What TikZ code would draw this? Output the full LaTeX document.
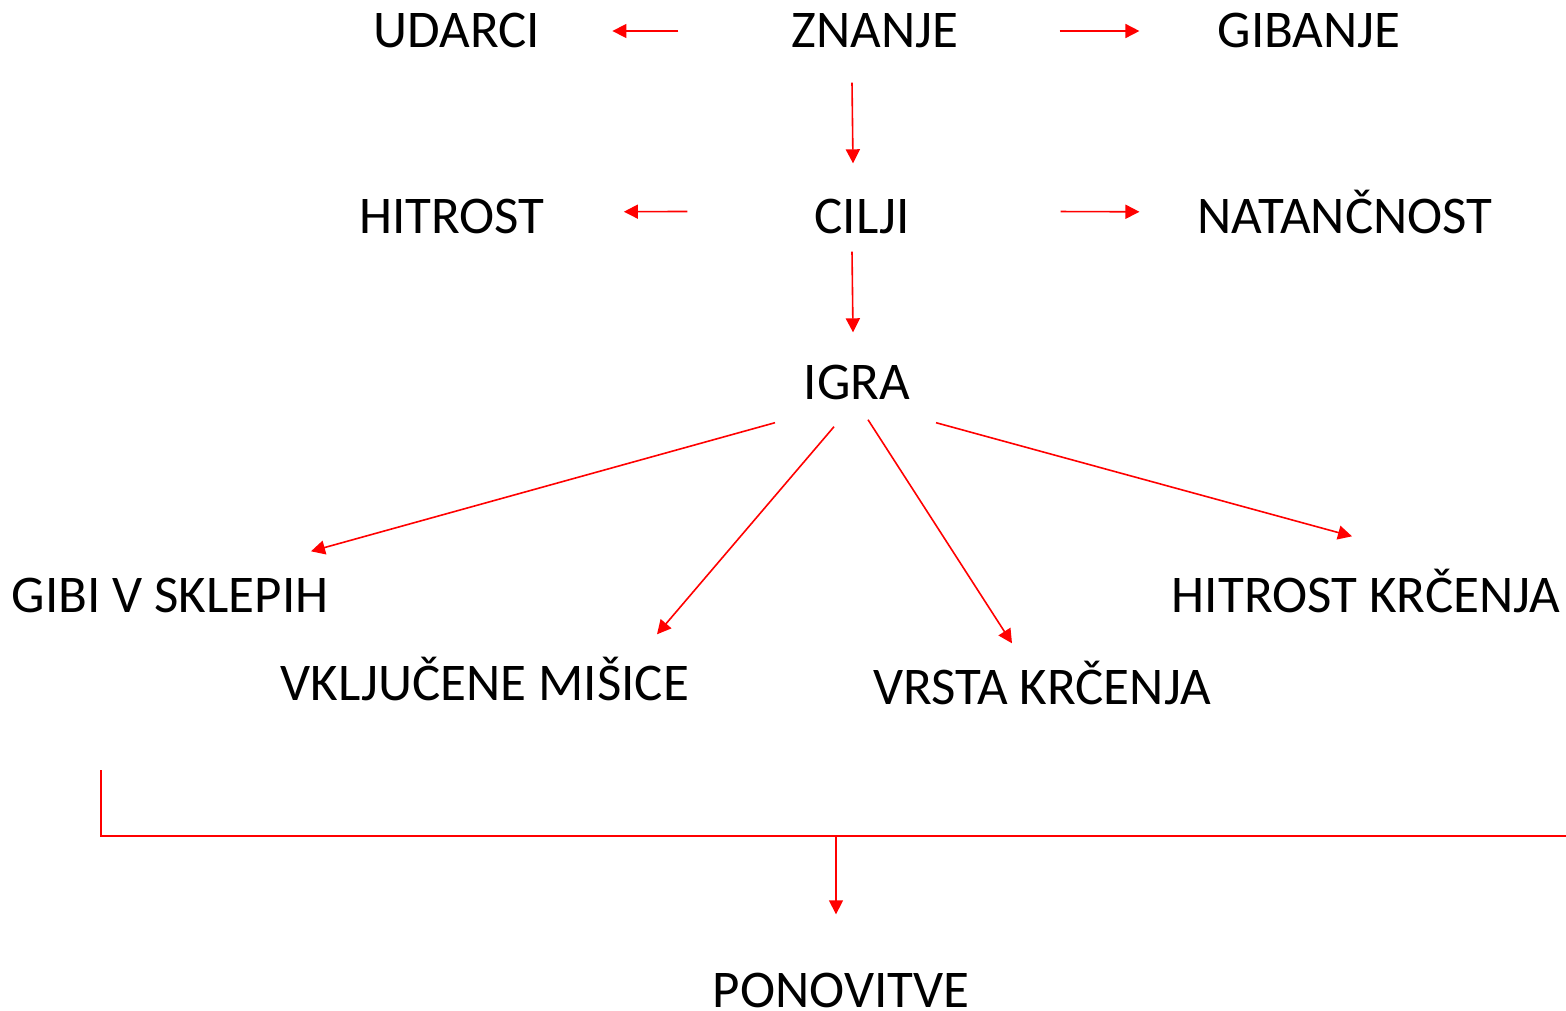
\documentclass[tikz,border=0pt]{standalone}
\usepackage{fontspec}
\setmainfont{Carlito}
\usepackage{xcolor}
\usepackage{tikz}
\usetikzlibrary{arrows.meta,calc}

\begin{document}
\begin{tikzpicture}[x=1pt, y=-1pt,
    every node/.style={font=\fontsize{53}{60}\selectfont, inner sep=0pt, text height=33pt, text depth=0pt},
    link/.style={red, line width=1.6pt},
    arr/.style={link, -{Triangle[length=14pt,width=14pt]}}]
    \useasboundingbox (0,0) rectangle (1566,1010);
    \node (udarci) at (457,31) {UDARCI};
    \node (znanje) at (875,31) {ZNANJE};
    \node (gibanje) at (1309,31) {GIBANJE};
    \node (hitrost) at (452,217) {HITROST};
    \node (cilji) at (862,217) {CILJI};
    \node (natancnost) at (1345,217) {NATANČNOST};
    \node (igra) at (857,383) {IGRA};
    \node (gibi) at (170,596) {GIBI V SKLEPIH};
    \node (misice) at (485,684) {VKLJUČENE MIŠICE};
    \node (vrsta) at (1042,688) {VRSTA KRČENJA};
    \node (hitrostk) at (1366,596) {HITROST KRČENJA};
    \node (ponovitve) at (841,991) {PONOVITVE};
    \coordinate (bl) at (101,770);
    \coordinate (br) at (1566,836);
    \coordinate (bm) at (836,836);
    \draw[arr, shorten <=113pt, shorten >=72pt] (znanje.west) -- (udarci.east);
    \draw[arr, shorten <=101pt, shorten >=78pt] (znanje.east) -- (gibanje.west);
    \draw[arr] ($(znanje.south)+(-23,35)$) -- ($(cilji.north)+(-9,-37)$);
    \draw[arr, shorten <=127pt, shorten >=79pt] ($(cilji.west)+(0,-6)$) -- ($(hitrost.east)+(0,-5)$);
    \draw[arr, shorten <=151pt, shorten >=58pt] ($(cilji.east)+(0,-6)$) -- ($(natancnost.west)+(0,-5)$);
    \draw[arr] ($(cilji.south)+(-10,18)$) -- ($(igra.north)+(-4,-34)$);
    \draw[arr] ($(igra.south)+(-82,23)$) -- ($(gibi.north)+(141,-28)$);
    \draw[arr] ($(igra.south)+(-23,27)$) -- ($(misice.north)+(172,-33)$);
    \draw[arr] ($(igra.south)+(11,20)$) -- ($(vrsta.north)+(-30,-28)$);
    \draw[arr] ($(igra.south)+(79,23)$) -- ($(hitrostk.north)+(-14,-43)$);
    \draw[link] (bl) |- (br);
    \draw[arr] (bm) -- ($(ponovitve.north)+(-5,-60)$);
\end{tikzpicture}
\end{document}
